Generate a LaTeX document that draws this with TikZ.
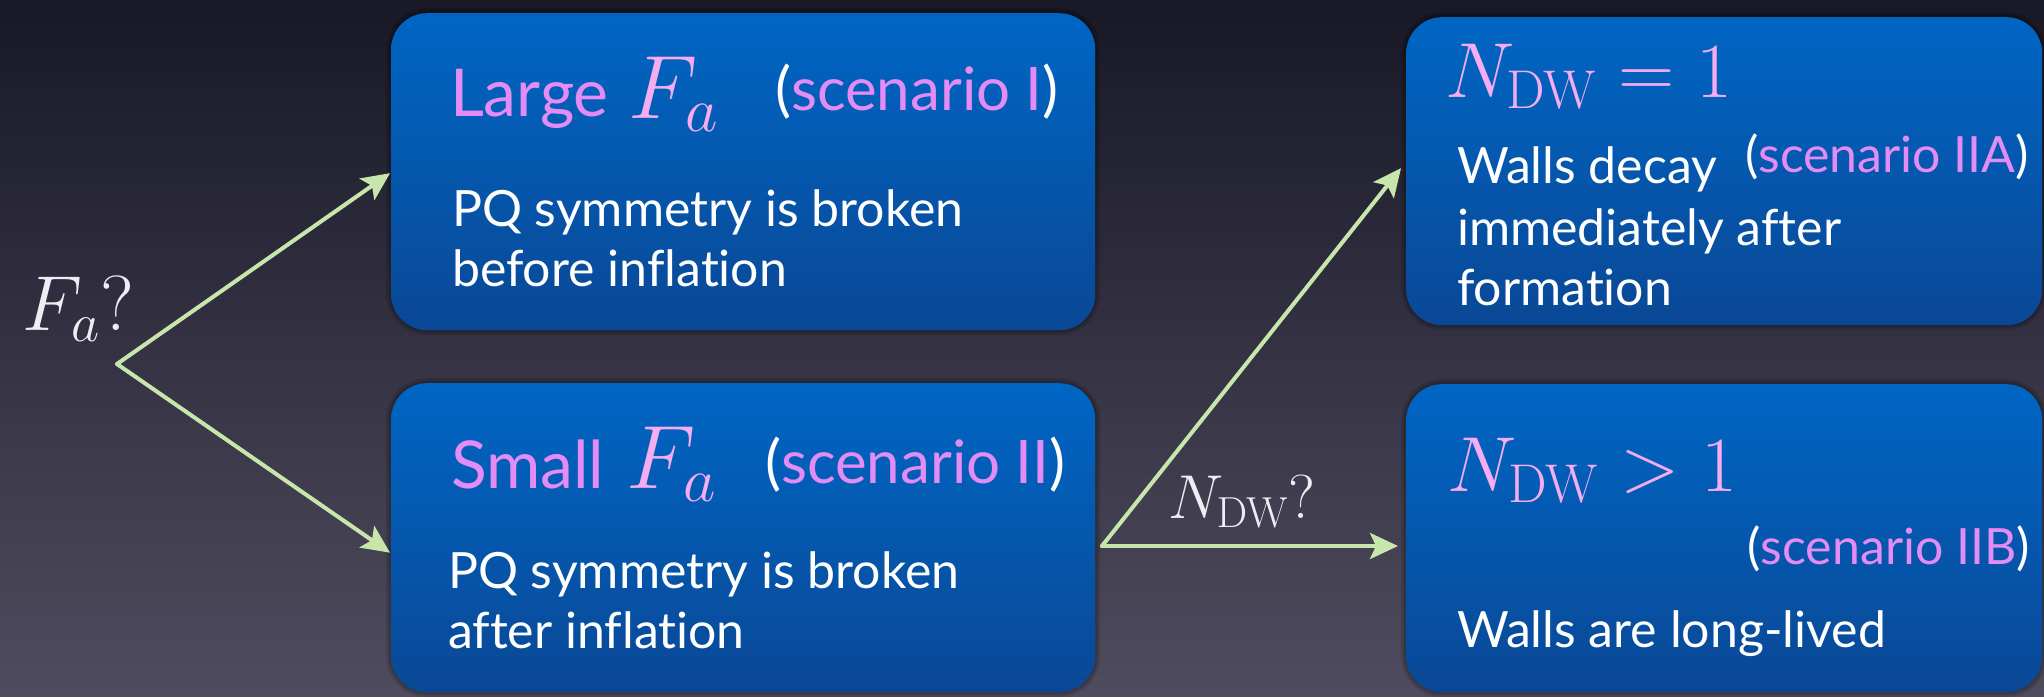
\RequirePackage{fix-cm}
\documentclass[tikz,border=0pt]{standalone}
\usepackage[no-math]{fontspec}
\newfontfamily\gs[Ligatures=NoCommon]{Lato}
\usetikzlibrary{arrows.meta}
\definecolor{bgtop}{RGB}{24,24,38}
\definecolor{bgbot}{RGB}{80,76,95}
\definecolor{boxtop}{RGB}{0,102,196}
\definecolor{boxbot}{RGB}{10,72,150}
\definecolor{pinkt}{RGB}{228,140,245}
\definecolor{pinkm}{RGB}{245,172,240}
\definecolor{arrowg}{RGB}{200,230,172}
\definecolor{lbl}{RGB}{238,238,242}
\tikzset{
  panel/.style={rounded corners=36pt, top color=boxtop, bottom color=boxbot, draw=none, inner sep=0pt, anchor=north west,
    preaction={draw=black, draw opacity=0.12, line width=10pt},
    preaction={draw=black, draw opacity=0.15, line width=5pt}},
  txt/.style={anchor=base west, inner sep=0pt, outer sep=0pt, text=white, font=\gs\fontsize{50}{60}\selectfont},
  ttl/.style={anchor=base west, inner sep=0pt, outer sep=0pt, text=pinkt, font=\gs\fontsize{66}{72}\selectfont},
  scn/.style={anchor=base west, inner sep=0pt, outer sep=0pt, text=white, font=\gs\fontsize{60}{66}\selectfont},
  mth/.style={anchor=base west, inner sep=0pt, outer sep=0pt, text=pinkm, font=\fontsize{90}{100}\selectfont},
  ndw/.style={anchor=base west, inner sep=0pt, outer sep=0pt, text=pinkm, font=\fontsize{78}{86}\selectfont},
  qlbl/.style={anchor=base west, inner sep=0pt, outer sep=0pt, text=lbl},
  flow/.style={draw=arrowg, line width=4pt, line cap=round, -{Stealth[length=28pt,width=26pt,inset=6pt]}},
}
\begin{document}
\begin{tikzpicture}[x=1pt,y=-1pt]
\useasboundingbox (0,0) rectangle (2044,696);
\shade[top color=bgtop,bottom color=bgbot] (0,0) rectangle (2044,696);

% panels
\node[panel, minimum width=704pt, minimum height=317pt] (b1) at (391,13) {};
\node[panel, minimum width=704pt, minimum height=309pt] (b2) at (391,383) {};
\node[panel, minimum width=636pt, minimum height=308pt] (b3) at (1406,17) {};
\node[panel, minimum width=636pt, minimum height=308pt] (b4) at (1406,384) {};

% box 1
\node[ttl] (t1) at (450,116) {Large};
\node[mth] (m1) at (628,118) {$F_a$};
\node[scn] (s1) at (775,110) {(\textcolor{pinkt}{scenario I})};
\node[txt] (p1a) at (452,226) {PQ symmetry is broken};
\node[txt] (p1b) at (452,286) {before inflation};

% box 2
\node[ttl] (t2) at (451,488) {Small};
\node[mth] (m2) at (626,488) {$F_a$};
\node[scn] (s2) at (765,483) {(\textcolor{pinkt}{scenario II})};
\node[txt] (p2a) at (448,588) {PQ symmetry is broken};
\node[txt] (p2b) at (448,648) {after inflation};

% box 3
\node[ndw] (m3) at (1445,97) {$N_{\mathrm{DW}}=1$};
\node[txt] (w3a) at (1457,183) {Walls decay};
\node[txt] (s3) at (1745,172) {(\textcolor{pinkt}{scenario IIA})};
\node[txt] (w3b) at (1457,245) {immediately after};
\node[txt] (w3c) at (1457,305) {formation};

% box 4
\node[ndw] (m4) at (1447,491) {$N_{\mathrm{DW}}>1$};
\node[txt, anchor=base east] (s4) at (2030,564) {(\textcolor{pinkt}{scenario IIB})};
\node[txt] (w4) at (1457,647) {Walls are long-lived};

% question labels
\node[qlbl, font=\fontsize{78}{86}\selectfont] (q1) at (22,330) {$F_a?$};
\node[qlbl, font=\fontsize{62}{70}\selectfont] (q2) at (1168,518) {$N_{\mathrm{DW}}?$};

% forks
\coordinate (f1) at (117,364);
\coordinate (f2) at (1102,546);
\draw[flow] (f1) -- ([yshift=-1.5pt,xshift=-1pt]b1.west);
\draw[flow] (f1) -- ([yshift=-15pt,xshift=-1pt]b2.west);
\draw[flow] (f2) -- ([yshift=3pt,xshift=-5pt]b3.west);
\draw[flow] (f2) -- ([xshift=-8pt]f2 -| b4.west);
\end{tikzpicture}
\end{document}
